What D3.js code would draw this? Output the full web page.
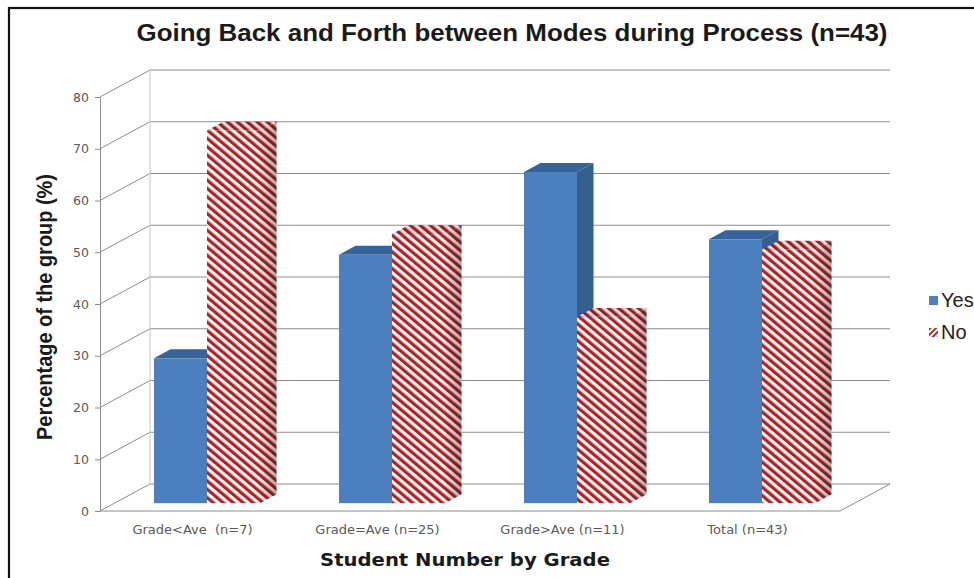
<!DOCTYPE html>
<html>
<head>
<meta charset="utf-8">
<script src="https://cdn.jsdelivr.net/npm/d3@7"></script>
<style>
  html, body { margin: 0; padding: 0; background: #fff; }
  svg { display: block; }
</style>
</head>
<body>
<svg id="chart" width="974" height="578"></svg>
<script>
// ---- data ----
const categories = ["Grade<Ave  (n=7)", "Grade=Ave (n=25)", "Grade>Ave (n=11)", "Total (n=43)"];
const seriesNames = ["Yes", "No"];
const yesValues = [28, 48, 64, 51];
const noValues = [72, 52, 36, 49];
const yTicks = [0, 10, 20, 30, 40, 50, 60, 70, 80];

const titleText = "Going Back and Forth between Modes during Process (n=43)";
const xTitle = "Student Number by Grade";
const yTitle = "Percentage of the group (%)";

// ---- layout ----
const svg = d3.select("#chart");
const W = 974, H = 578;
const plot = { left: 100, right: 840, top: 97, bottom: 511 };
const depth = { dx: 50, dy: -27 };        // offset of the back wall from the front plane
const barDepth = [0.29, 0.62];            // bars sit in the middle slice of the depth

const x0 = d3.scaleBand().domain(categories).range([plot.left, plot.right]);
const pairW = 106;
const x1 = d3.scaleBand().domain(seriesNames).range([0, pairW]);
const y = d3.scaleLinear().domain([0, 80]).range([plot.bottom, plot.top]);

const off = d => [depth.dx * d, depth.dy * d];

// outer frame
svg.append("rect")
  .attr("x", 9).attr("y", 8).attr("width", W + 20).attr("height", H + 20)
  .attr("fill", "none").attr("stroke", "#111").attr("stroke-width", 2.2);

// ---- patterns ----
const defs = svg.append("defs");
const pat = defs.append("pattern")
  .attr("id", "stripes")
  .attr("patternUnits", "userSpaceOnUse")
  .attr("width", 6.4).attr("height", 20)
  .attr("patternTransform", "rotate(-50)");
pat.append("rect").attr("width", 6.4).attr("height", 20).attr("fill", "#fdf2f0");
pat.append("rect").attr("width", 3.2).attr("height", 20).attr("fill", "#ad2227");

const legPat = defs.append("pattern")
  .attr("id", "stripesLegend")
  .attr("patternUnits", "userSpaceOnUse")
  .attr("width", 4).attr("height", 20)
  .attr("patternTransform", "rotate(45)");
legPat.append("rect").attr("width", 4).attr("height", 20).attr("fill", "#fff");
legPat.append("rect").attr("width", 2).attr("height", 20).attr("fill", "#b3262b");

const sideGrad = defs.append("linearGradient").attr("id", "sideShade")
  .attr("x1", 0).attr("x2", 1).attr("y1", 0).attr("y2", 0);
sideGrad.append("stop").attr("offset", 0).attr("stop-color", "#000").attr("stop-opacity", 0.05);
sideGrad.append("stop").attr("offset", 1).attr("stop-color", "#000").attr("stop-opacity", 0.3);

// ---- walls and gridlines ----
const grid = svg.append("g").attr("stroke", "#8c8c8c").attr("stroke-width", 1).attr("fill", "none");
const [bx, by] = off(1);
yTicks.forEach(v => {
  const yy = y(v);
  // diagonal on the side wall
  grid.append("line").attr("x1", plot.left).attr("y1", yy).attr("x2", plot.left + bx).attr("y2", yy + by);
  // back wall line
  grid.append("line").attr("x1", plot.left + bx).attr("y1", yy + by).attr("x2", plot.right + bx).attr("y2", yy + by);
});
// back wall left edge
grid.append("line").attr("x1", plot.left + bx).attr("y1", y(80) + by).attr("x2", plot.left + bx).attr("y2", y(0) + by)
  .attr("stroke", "#c8c8c8");
// floor
grid.append("path")
  .attr("d", `M${plot.left},${y(0)} L${plot.right},${y(0)} L${plot.right + bx},${y(0) + by}`);

// ---- y axis ----
const yAxis = svg.append("g")
  .attr("transform", `translate(${plot.left},0)`)
  .call(d3.axisLeft(y).tickValues(yTicks).tickSize(5).tickPadding(6).tickSizeOuter(0));
yAxis.select(".domain").attr("stroke", "#8c8c8c");
yAxis.selectAll(".tick line").attr("stroke", "#8c8c8c");
yAxis.selectAll(".tick text")
  .attr("font-family", "DejaVu Sans").attr("font-size", 12.5).attr("fill", "#595959");

// ---- x axis labels ----
const xAxis = svg.append("g")
  .attr("transform", `translate(0,${plot.bottom})`)
  .call(d3.axisBottom(x0).tickSize(0).tickPadding(14));
xAxis.select(".domain").remove();
xAxis.selectAll(".tick text")
  .attr("font-family", "DejaVu Sans").attr("font-size", 13).attr("fill", "#595959")
  .style("white-space", "pre");

// ---- bars ----
const [fx, fy] = off(barDepth[0]);
const [kx, ky] = off(barDepth[1]);
const ddx = kx - fx, ddy = ky - fy;

const styles = {
  Yes: { front: "#4b7fbd", top: "#35639a", side: "#345e8e" },
  No: { front: "url(#stripes)", top: "url(#stripes)", side: "url(#stripes)" }
};

const bars = [];
categories.forEach((c, i) => {
  bars.push({ cat: c, s: "Yes", v: yesValues[i] });
  bars.push({ cat: c, s: "No", v: noValues[i] });
});

const barG = svg.append("g");
bars.forEach(b => {
  const xl = x0(b.cat) + (x0.bandwidth() - pairW) / 2 + x1(b.s) + fx;
  const xr = xl + x1.bandwidth();
  const yb = y(0) + fy;
  const yt = y(b.v) + fy;
  const st = styles[b.s];
  const g = barG.append("g");
  // right side face
  const sidePts = [[xr, yt], [xr + ddx, yt + ddy], [xr + ddx, yb + ddy], [xr, yb]];
  g.append("polygon").attr("points", sidePts.join(" ")).attr("fill", st.side);
  if (b.s === "No") {
    g.append("polygon").attr("points", sidePts.join(" ")).attr("fill", "url(#sideShade)");
  }
  // top face
  const topPts = [[xl, yt], [xl + ddx, yt + ddy], [xr + ddx, yt + ddy], [xr, yt]];
  g.append("polygon").attr("points", topPts.join(" ")).attr("fill", st.top);
  if (b.s === "No") {
    g.append("polygon").attr("points", topPts.join(" ")).attr("fill", "#000").attr("opacity", 0.1);
  }
  // front face
  g.append("rect").attr("x", xl).attr("y", yt).attr("width", xr - xl).attr("height", yb - yt)
    .attr("fill", st.front);
});

// ---- titles ----
svg.append("text")
  .attr("x", 512).attr("y", 41).attr("text-anchor", "middle")
  .attr("font-family", "Liberation Sans Narrow, Liberation Sans").attr("font-weight", "bold").attr("font-size", 24)
  .attr("fill", "#1a1a1a")
  .attr("textLength", 751).attr("lengthAdjust", "spacingAndGlyphs")
  .text(titleText);

svg.append("text")
  .attr("transform", "translate(52,307) rotate(-90)")
  .attr("text-anchor", "middle")
  .attr("font-family", "Liberation Sans Narrow, Liberation Sans").attr("font-weight", "bold").attr("font-size", 22)
  .attr("fill", "#1a1a1a")
  .attr("textLength", 266).attr("lengthAdjust", "spacingAndGlyphs")
  .text(yTitle);

svg.append("text")
  .attr("x", 465).attr("y", 566).attr("text-anchor", "middle")
  .attr("font-family", "DejaVu Sans").attr("font-weight", "bold").attr("font-size", 18)
  .attr("fill", "#1a1a1a")
  .attr("textLength", 290).attr("lengthAdjust", "spacingAndGlyphs")
  .text(xTitle);

// ---- legend ----
const legend = svg.append("g").attr("transform", "translate(929,296)");
const legendFills = { Yes: "#4b7fbd", No: "url(#stripesLegend)" };
seriesNames.forEach((s, i) => {
  const g = legend.append("g").attr("transform", `translate(0,${i * 32})`);
  g.append("rect").attr("width", 9).attr("height", 9).attr("fill", legendFills[s]);
  g.append("text").attr("x", 12).attr("y", 11)
    .attr("font-family", "Liberation Sans").attr("font-size", 20).attr("fill", "#222")
    .text(s);
});
</script>
</body>
</html>
